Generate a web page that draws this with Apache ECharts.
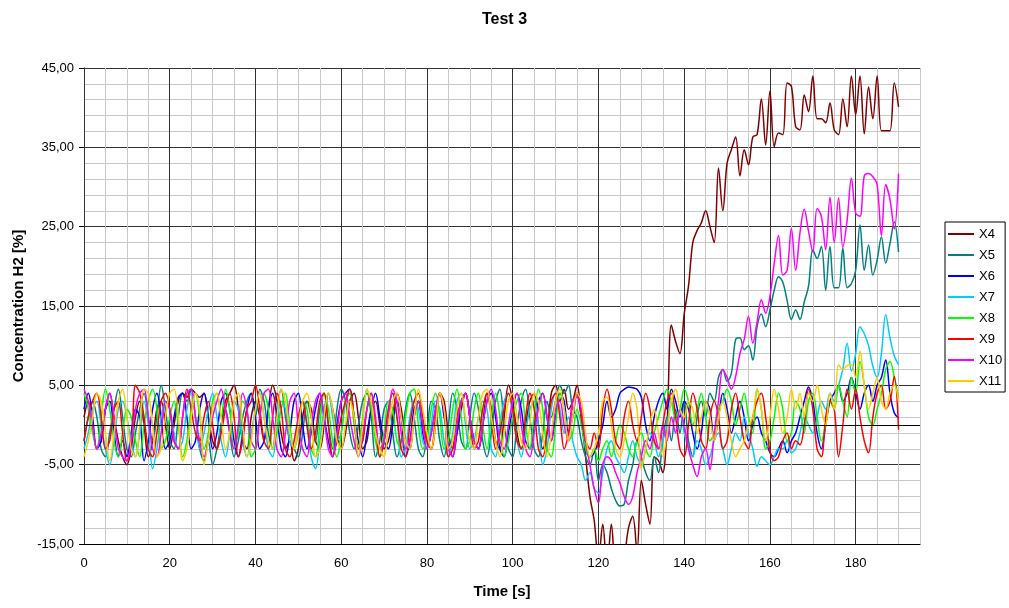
<!DOCTYPE html>
<html>
<head>
<meta charset="utf-8">
<script src="https://cdn.jsdelivr.net/npm/echarts@6/dist/echarts.min.js"></script>
<style>
html,body{margin:0;padding:0;background:#fff;}
#main{width:1009px;height:608px;}
</style>
</head>
<body>
<div id="main"></div>
<script>
// one reading per second, t = 0..190
var names = ['X4','X5','X6','X7','X8','X9','X10','X11'];
var colors = ['#800000','#008080','#0000ff','#00ccff','#00ff00','#ff0000','#ff00ff','#ffcc00'];

var x4 = [
 1,3,0,-3,-2,2,4,1,-2,-4,
 -5,-3,1,3,0,-4,-2,2,3,0,
 -3,0,3,4,3.5,4.5,4,3.5,4,1,
 -2,-3,0,3,4,5,2,-2,-3,1,
 3,1,-2,2,5,3,-1,-3,-2,-4.5,
 -3,1,3,2,-2,-3,0,4,2,-1,
 -3,-1,3,4,1,-3,-2,2,3,0,
 -3,-2,1,4,2,-2,-3,1,3,0,
 -2,-3,0,4,3,-1,-3,-1,2,4,
 1,-2,-3,0,4,2,-2,-3,1,5,
 3,-1,-3,0,3,4,0,-3,-1,4,
 5,3,4.5,2,3,5,1,-4,-9,-12,
 -17,-12.5,-18,-12.5,-19,-20,-17,-13,-11.5,-16,
 -7,-10,-12.5,-4,-4.5,-6,0,12.6,10.5,9,
 14,17.5,23,24.5,25.5,27,25,23,32.4,27,
 33,34.7,36.3,31.4,34.7,32.8,36.3,36.6,41.1,35.3,
 42.1,35.1,36.8,36.6,43.1,42.7,37.6,37.2,41.6,39.5,
 44,38.6,38.6,38.1,40.6,37.2,36.6,41.1,37.6,44,
 39.1,44,36.7,42.6,38.6,44,37.1,37.1,37.1,43.1,40.1
];
var x5 = [
 -2,1,3,1,-3,-4,-1,2,4.5,1,
 -3,-4,-1,2,4,1,-2,1,5,2,
 -2,-3,1,4,3,4.5,1,-3,-4.5,-2,
 -5,-3,0,2,-1,-4,-2,1,3,4,
 1,4.5,3,-1,-3,2,4.5,1,-2,-3,
 -4,-1,3,1,-2,2,4,0,-3,2,
 4.5,3,-1,-3,0,3,4,1,-4,-2,
 2,3,-1,-4,-2,2,4,1,-3,-4,
 -1,3,2,-2,-4,0,4,2,-2,-3,
 1,4,2,-2,-4,-1,3,4.5,0,-3,
 -4,0,3,4.5,1,-3,-4,-1,3,1,
 3,5,4,5,2,1,-2,-4,-5,-3,
 -7,-5,-6,-8,-9.5,-10.2,-10,-7,-5,-2,
 -4,-6,-7,-4,-6,-2,1,-2,2,-1,
 3,-2,-4,1,3,1,4,3,6,7,
 5.5,6.5,10.8,11,9.5,10,8.2,12.4,14,12.4,
 14.5,17,18.7,18,15.7,13.3,14.5,13.3,15.5,17.5,
 22.1,21,22.5,17,22.5,17.3,17.3,22.3,17.3,17.8,
 19.5,25.2,19.5,22.7,18.9,20.8,23.7,20.4,22.9,25.6,21.8
];
var x6 = [
 2,4,1,-3,-2,2,3,-1,-4,-2,
 -4,-1,2,1,-4.5,-2,2,4,1,-3,
 -2,1,3.5,4,1,-3,-2,2,4,1,
 -3,-1,3,4,2,-2,-4,-1,2,4,
 1,-3,-2,2,4,1,-3,-4,-1,3,
 4,0,-3,-1,2,4,1,-2,-4,0,
 3,4,4.5,1,-2,-4,-1,2,4,1,
 -2,-3,0,3,1,-4,-2,2,3,-1,
 -3,-1,2,4,1,-2,-4,-1,3,4,
 1,-2,-3,0,3,4,1,-3,-4,-1,
 2,4,2,-2,-3,0,3,4,1,-2,
 1,4,3,-1,1,4,1,-3,-4,-3.5,
 -2,0,3,1,2,4,4.5,4.8,4.7,4.5,
 3.5,0,-2,1,3,4,2,4.5,3,1,
 3,2,-1,-3,-1,3,2,-2,1,4,
 2,-1,1,3,1,-2,0,1,-1,-2,
 -3.5,-4,-3,-2,-3.5,-2,-1,1,3,4.8,
 3,-1,-3,0,3,4,5,3,4,6,
 4,2,4,5,3,5,6,8.2,4,1.5,0.9
];
var x7 = [
 -3,-1,2,3,0,-3,-5,-2,2,3,
 1,-2,-4,-1,3,0,-5.5,-3,1,3,
 2,-1,-3,-2,2,4,1,-3,-1,2,
 4,1,-2,-4,-1,3,2,-2,-4,-1,
 2,4,1,-3,-4,0,3,2,-2,-3,
 1,3,0,-4,-5.5,-2,2,4,1,-2,
 -1,3,4,1,-3,-2,2,4,0,-4,
 -2,2,4,1,-4,-3,1,3,2,-2,
 -3,0,3,2,-2,-4,-1,3,4,0,
 -3,-2,1,3,2,-3,-4,0,3,4,
 1,-2,-4,-1,2,3,0,-5,-3,2,
 4,2,-1,1,-2,-4,-5,-7,-6,-8,
 -8.6,-6,-3,-2,-4,-5,-6,-4,-2,-4,
 -5,-3,-1,-2,-4,-2,0,3,1,2,
 -1,-3,-4,-2,-3,-5,-4,-2,-1,-3,
 -5,-3,-1,-2,1,-1,-3,-5.2,-4,-4.5,
 -5,-4,-3,-3,-2,-3.5,-3,-1,1,0,
 -1,1,3,2,4,3,5,7,10.3,6.8,
 9,12.4,11.5,10,7.4,6,9,13.9,11,8.7,7.6
];
var x8 = [
 4,2,-1,-3,1,4.5,2,-2,-4,-1,
 2,1,-2,-4,0,3,4.5,2,-3,-2,
 1,3,0,-4,-2,2,4,1,-3,-1,
 3,4,1,4.5,2,-3,-1,3,2,-4,
 -3,1,4,2,-3,-1,2,4,0,-3,
 -1,3,2,-3,-4,0,4,2,-2,-4,
 -1,3,4,0,-3,1,4.5,2,-2,-4,
 -1,3,2,-2,-3,1,4,4.5,0,-3,
 -2,2,4,1,-3,-2,2,4.5,1,-3,
 -2,2,4,0,-3,1,4,1,-4,-2,
 1,3,4,0,-3,1,4.5,2,-3,-4,
 0,4,2,-2,-1,2,0,-3,-4,-3,
 -4.5,-3,-2,-4,-2,0,-1,-3,-4,-2,
 -1,-3,-4,-1,1,3,4.5,3,1,2,
 4.5,3,0,2,4,1,-2,-1,2,3,
 4.5,3,0,2,4,1,-1,4.5,2,-3,
 -2,1,4,2,-2,-1,3,2,-1,3,
 4,1,-2,0,3,2,5,3,1,6,
 4,8,5,1,0,2,4,7,8,6,3.4
];
var x9 = [
 -2,1,3,4,1,-3,-2,2,3,-1,
 -4.5,-3,5,4,1,-3,-4,-1,3,4,
 2,-2,-3,1,4.5,2,-1,-2,1,3,
 0,-3,-1,2,4,1,-4,-2,2,3,
 5,2,-2,-3,1,4,2,-3,-4,-2,
 1,3,0,-3,-1,3,4,0,-4,-2,
 1,3,4.5,1,-3,-2,2,4,0,-4,
 -2,2,4,1,-3,-4,0,3,4,1,
 -2,-3,1,4,2,-4,-3,1,3,4,
 1,-3,-2,2,4,1,-3,-1,2,4,
 2,-2,-3,1,4,2,-3,-4,-1,3,
 4,1,-3,-1,3,4,1,-2,-3,-1,
 -3,2,4.5,2,-2,-3,1,3,0,-2,
 1,4,2,-2,-3,0,3,4,1,-3,
 -4,0,4,2,-2,-3,1,3,1,-3,
 -2,2,4,1,-2,-3,1,3,4,1,
 -3.3,-4.5,-4,-2,-1,-3,-2,-2.5,0,4.5,
 2,-3,-4,1,3,2,-4,0,4.5,2,
 4.5,1,-2,-3.5,1,4,5,2,3,6.1,-0.6
];
var x10 = [
 4.5,3,0,-3,-1,2,4,1,-3,-4,
 -4.5,-2,2,4,4.5,1,-3,-4,-1,3,
 2,-2,-3,1,4,4.5,1,-2,-4,-2,
 1,3,4.5,2,-1,-3,0,4,2,-2,
 -3,1,4,4.5,1,-3,-4,-1,3,4,
 0,-3,-4,0,3,4,1,-3,-4,-1,
 3,4,1,-2,-4,-1,2,4,1,-3,
 -2,1,4.5,3,-1,-3,-2,1,3,0,
 -3,-1,2,4,2,-3,-4,0,3,4,
 1,-2,-3,0,3,4.5,2,-2,-3,0,
 3,4,0,-3,-4,-1,2,4,1,-2,
 2,3,0,-2,3,3.5,2,-2,-5,-8,
 -9.8,-5,-4,-4.5,-6,-7.3,-9,-10,-9,-6,
 -4,-2,-3,-1,-3,0,-2,1,-1,2,
 0,-3,-5,-6.5,-4,-3,-5.6,-1,3,7,
 6,4.5,6.1,9,10.8,13.7,10.3,13,15.8,14.1,
 16.2,20.4,23.9,18.9,19.5,24.8,19.5,24.2,27.2,24.4,
 21.8,27.3,26.3,22.1,28.7,23,28.6,22.4,25.8,31.1,
 26.7,26.3,31.4,31.7,31.3,30.3,23.9,30.3,28.4,24.7,31.7
];
var x11 = [
 -4,-2,1,4,3,-1,-4.5,-1,3,4.5,
 1,-3,-4,0,4.5,4,0,-4,-3,1,
 4,4.5,1,-4.5,-3,1,4,2,-5,-2,
 2,4,1,-3,-1,3,4,0,-4,-2,
 2,4,1,-2,-3,1,4.5,3,-1,-3,
 0,3,4,1,-4,-3,1,4,2,-2,
 -3,0,3,1,-4,0,4.5,3,-1,-3,
 -4,0,3,4,1,-2,-3,1,4.5,2,
 -1,-3,0,4,2,-3,-2,2,4,1,
 -2,-3,1,4,4.5,1,-2,-4,-1,3,
 4,1,-2,-3,0,4,3,-1,-4,-1,
 3,4.5,2,-2,1,4,3,-1,-4,-3,
 -1,3,3.5,0,-3,-4,-2,1,4,2,
 -5.5,-3,0,2,-1,-4,-1,3,4.5,2,
 1,3,2,-1,1,3,1,-2,1,3,
 1,-2,-4,-3,-2,0,1,4.5,2,-2,
 1,4.5,2,-1,1,4.5,2,4,1,4,
 3,5,2,0,4,2,7.6,7,7.5,7.6,
 6,9.3,5,2,4,6,3,2,4,5,3
];
var seriesValues = [x4, x5, x6, x7, x8, x9, x10, x11];

var fontFamily = '"Liberation Sans", Arial, sans-serif';

function pairs(arr) {
    var out = [];
    for (var i = 0; i < arr.length; i++) out.push([i, arr[i]]);
    return out;
}

var series = seriesValues.map(function (vals, k) {
    return {
        name: names[k],
        type: 'line',
        xAxisIndex: 1,
        data: pairs(vals),
        smooth: 0.35,
        symbol: 'none',
        lineStyle: { width: 1.5, color: colors[k] },
        itemStyle: { color: colors[k] },
        z: 3
    };
});
// black line at 0, below the curves
series.unshift({
    name: 'zero',
    type: 'line',
    xAxisIndex: 1,
    data: [],
    z: 1,
    markLine: {
        silent: true,
        symbol: 'none',
        label: { show: false },
        lineStyle: { color: '#000', width: 1, type: 'solid' },
        data: [{ yAxis: 0 }]
    }
});

var myChart = echarts.init(document.getElementById('main'));
myChart.setOption({
    animation: false,
    backgroundColor: '#fff',
    textStyle: { fontFamily: fontFamily },
    title: {
        text: 'Test 3',
        left: 'center',
        top: 7,
        textStyle: { fontSize: 16, fontWeight: 'bold', color: '#000', fontFamily: fontFamily }
    },
    legend: {
        data: names,
        orient: 'vertical',
        left: 945,
        top: 222,
        icon: 'rect',
        itemWidth: 26,
        itemHeight: 2,
        itemGap: 7,
        padding: [5, 3, 4, 3],
        borderColor: '#000',
        borderWidth: 1,
        textStyle: { fontSize: 13, color: '#000', lineHeight: 14, fontFamily: fontFamily }
    },
    grid: { left: 84, right: 89, top: 68, bottom: 64, show: false },
    xAxis: [{
        type: 'value', position: 'bottom', min: 0, max: 195, interval: 5, z: 0,
        axisLine: { show: false }, axisTick: { show: false }, axisLabel: { show: false },
        splitLine: { show: true, lineStyle: { color: '#c8c8c8', width: 1 } }
    }, {
        type: 'value', position: 'bottom', min: 0, max: 195, interval: 20, z: 1,
        name: 'Time [s]', nameLocation: 'middle', nameGap: 40,
        nameTextStyle: { fontSize: 15, fontWeight: 'bold', color: '#000', fontFamily: fontFamily },
        axisLine: { show: true, onZero: false, lineStyle: { color: '#000' } },
        axisTick: { show: false },
        axisLabel: { fontSize: 13, color: '#000', margin: 13, showMaxLabel: false },
        splitLine: { show: true, showMaxLine: false, lineStyle: { color: '#333' } }
    }],
    yAxis: {
        type: 'value', min: -15, max: 45, interval: 10,
        name: 'Concentration H2 [%]', nameLocation: 'middle', nameGap: 58,
        nameTextStyle: { fontSize: 15, fontWeight: 'bold', color: '#000', fontFamily: fontFamily },
        axisLine: { show: true, lineStyle: { color: '#000' } },
        axisTick: { show: true, length: 5, lineStyle: { color: '#000' } },
        axisLabel: {
            fontSize: 13, color: '#000', margin: 10,
            formatter: function (v) { return v.toFixed(2).replace('.', ','); }
        },
        splitLine: { show: true, lineStyle: { color: '#333' } },
        minorTick: { show: false, splitNumber: 5 },
        minorSplitLine: { show: true, lineStyle: { color: '#c8c8c8' } }
    },
    series: series
});
</script>
</body>
</html>
